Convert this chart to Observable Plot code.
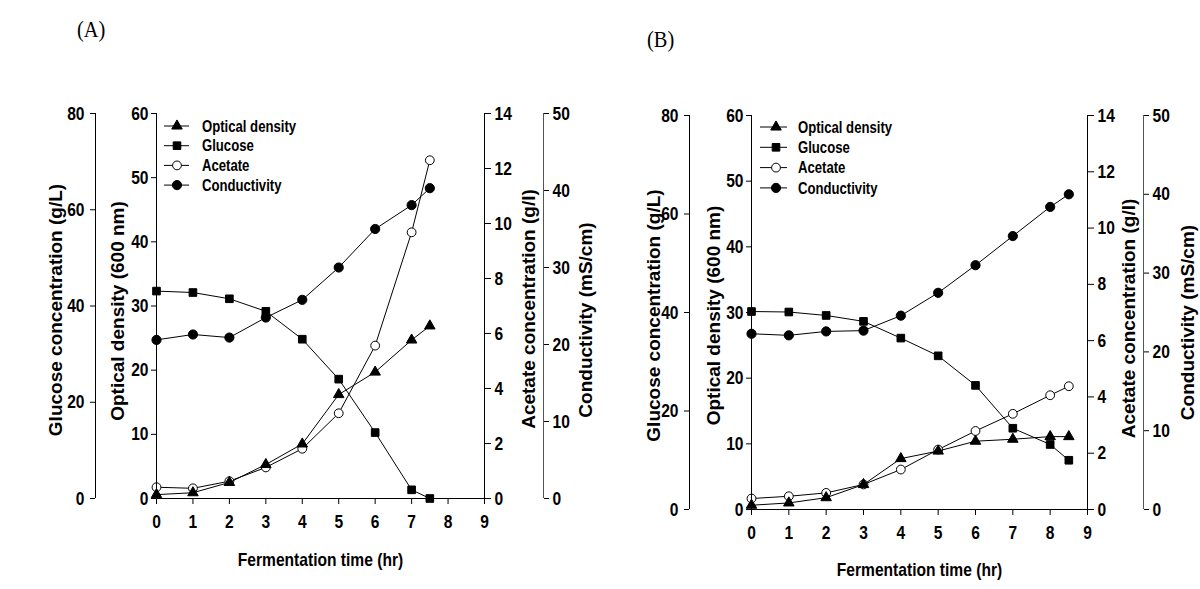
<!DOCTYPE html>
<html><head><meta charset="utf-8">
<script src="https://cdn.jsdelivr.net/npm/d3@7"></script>
<script src="https://cdn.jsdelivr.net/npm/@observablehq/plot@0.6"></script>
<style>
html,body{margin:0;padding:0;background:#fff;}
#root{position:relative;width:1200px;height:589px;overflow:hidden;background:#fff;}
.layer{position:absolute;top:0;}
.panel-label{position:absolute;font-family:"Liberation Serif","Times New Roman",serif;font-size:24px;color:#000;transform:scaleX(0.85);transform-origin:left top;}
</style></head><body>
<div id="root"></div>
<script>
// ---------- data ----------
const timeA = [0, 1, 2, 3, 4, 5, 6, 7, 7.5];
const odA = [0.6, 0.9, 2.5, 5.3, 8.5, 16.2, 19.7, 24.7, 26.9];
const glucoseA = [43.1, 42.8, 41.5, 38.9, 33.1, 24.8, 13.7, 1.8, 0];
const acetateA = [0.41, 0.37, 0.63, 1.13, 1.81, 3.10, 5.56, 9.68, 12.3];
const conductivityA = [20.6, 21.3, 20.9, 23.5, 25.8, 30.0, 35.0, 38.1, 40.3];

const timeB = [0, 1, 2, 3, 4, 5, 6, 7, 8, 8.5];
const odB = [0.65, 1.0, 1.8, 3.8, 7.75, 8.9, 10.4, 10.7, 11.1, 11.1];
const glucoseB = [40.2, 40.1, 39.4, 38.2, 34.8, 31.2, 25.2, 16.5, 13.2, 10.0];
const acetateB = [0.39, 0.47, 0.59, 0.89, 1.42, 2.13, 2.79, 3.40, 4.06, 4.38];
const conductivityB = [22.3, 22.1, 22.6, 22.7, 24.6, 27.5, 31.0, 34.7, 38.4, 40.0];

const xTicks = [0, 1, 2, 3, 4, 5, 6, 7, 8, 9];
const odTicks = [0, 10, 20, 30, 40, 50, 60];
const glucoseTicks = [0, 20, 40, 60, 80];
const acetateTicks = [0, 2, 4, 6, 8, 10, 12, 14];
const conductivityTicks = [0, 10, 20, 30, 40, 50];

const seriesNames = ["Optical density", "Glucose", "Acetate", "Conductivity"];
const panelLabels = ["(A)", "(B)"];
const xTitle = "Fermentation time (hr)";
const odTitle = "Optical density (600 nm)";
const glucoseTitle = "Glucose concentration (g/L)";
const acetateTitle = "Acetate concentration (g/l)";
const conductivityTitle = "Conductivity (mS/cm)";

// ---------- drawing ----------
const fontMain = '"Liberation Sans",Arial,sans-serif';
const squeeze = 0.82; // horizontal glyph compression seen in the reference
const root = document.getElementById("root");

const symbols = {
  "Optical density": {symbol: "triangle", fill: "#000", r: 3.9},
  "Glucose": {symbol: "square", fill: "#000", r: 4.3},
  "Acetate": {symbol: "circle", fill: "#fff", r: 4.4},
  "Conductivity": {symbol: "circle", fill: "#000", r: 4.6}
};

function table(t, v) { return t.map((x, i) => ({t: x, v: v[i]})); }

function seriesMarks(name, data) {
  const s = symbols[name];
  return [
    Plot.line(data, {x: "t", y: "v", stroke: "#000", strokeWidth: 1}),
    Plot.dot(data, {x: "t", y: "v", symbol: s.symbol, fill: s.fill, stroke: "#000", strokeWidth: 1, r: s.r})
  ];
}

function vtitle(text, anchor, dx, dy) {
  return Plot.text([text], {frameAnchor: anchor, dx, dy, rotate: -90, textAnchor: "middle",
    fontFamily: fontMain, fontSize: 19, fontWeight: "bold", fill: "#000"});
}

function addLayer(left, m, yDomain, marks, showX) {
  const svg = Plot.plot({
    width: 600, height: 589,
    marginTop: m.top, marginRight: m.right, marginBottom: m.bottom, marginLeft: m.left,
    x: showX ? {domain: [0, 9]} : {domain: [0, 9], axis: null},
    y: {domain: yDomain},
    style: {background: "transparent", fontFamily: fontMain, fontSize: "19px", fontWeight: "bold", color: "#000", overflow: "visible"},
    marks
  });
  const div = document.createElement("div");
  div.className = "layer";
  div.style.left = left + "px";
  div.appendChild(svg);
  root.appendChild(div);
}

function drawPanel(p) {
  const {left, m, t, od, glu, ace, con, g} = p;
  addLayer(left, m, [0, 80], [
    Plot.ruleX([0], {dx: g.gluDx, stroke: "#000"}),
    Plot.axisY({anchor: "left", dx: g.gluDx, ticks: glucoseTicks, tickSize: 5, tickPadding: 6, label: null}),
    vtitle(glucoseTitle, "left", g.gluTitle, g.gluTitleDy),
    ...seriesMarks("Glucose", table(t, glu))
  ], false);
  addLayer(left, m, [0, 14], [
    Plot.ruleX([9], {stroke: "#000"}),
    Plot.axisY({anchor: "right", ticks: acetateTicks, tickSize: 6, tickPadding: 4, label: null}),
    vtitle(acetateTitle, "right", g.aceTitle, g.aceTitleDy),
    ...seriesMarks("Acetate", table(t, ace))
  ], false);
  addLayer(left, m, [0, 50], [
    Plot.ruleX([9], {dx: g.conDx, stroke: "#555"}),
    Plot.axisY({anchor: "right", dx: g.conDx, ticks: conductivityTicks, tickSize: 5, tickPadding: 4, label: null}),
    vtitle(conductivityTitle, "right", g.conTitle, g.conTitleDy),
    ...seriesMarks("Conductivity", table(t, con))
  ], false);
  addLayer(left, m, [0, 60], [
    Plot.ruleX([0], {stroke: "#000"}),
    Plot.ruleY([0], {stroke: "#000"}),
    Plot.axisY({anchor: "left", ticks: odTicks, tickSize: 5, tickPadding: 3, label: null}),
    Plot.axisX({ticks: xTicks, tickSize: 6, tickPadding: 10, label: null}),
    vtitle(odTitle, "left", g.odTitle, g.odTitleDy),
    Plot.text([xTitle], {frameAnchor: "bottom", dy: g.xTitleDy, fontFamily: fontMain, fontSize: 19, fontWeight: "bold", fill: "#000"}),
    ...seriesMarks("Optical density", table(t, od))
  ], true);
  const L = p.legend;
  const svg = d3.select(root).append("svg")
    .attr("width", 200).attr("height", 100)
    .style("position", "absolute").style("left", L.x + "px").style("top", L.y + "px");
  seriesNames.forEach((name, i) => {
    const s = symbols[name];
    const y = 10 + i * L.step;
    svg.append("line").attr("x1", 0).attr("x2", L.lineW).attr("y1", y).attr("y2", y)
      .attr("stroke", "#000").attr("stroke-width", 1);
    const type = s.symbol === "triangle" ? d3.symbolTriangle : s.symbol === "square" ? d3.symbolSquare : d3.symbolCircle;
    svg.append("path").attr("d", d3.symbol(type, Math.PI * s.r * s.r)())
      .attr("transform", `translate(${L.markX},${y})`)
      .attr("fill", s.fill).attr("stroke", "#000").attr("stroke-width", 1);
    svg.append("text").attr("x", L.textX).attr("y", y).attr("dy", "0.35em")
      .attr("font-family", fontMain).attr("font-size", 16).attr("font-weight", "bold")
      .text(name);
  });
  const lab = document.createElement("div");
  lab.className = "panel-label";
  lab.style.left = p.label.x + "px";
  lab.style.top = p.label.y + "px";
  lab.textContent = p.label.text;
  root.appendChild(lab);
}

drawPanel({
  left: 0,
  m: {top: 113, right: 116, bottom: 91, left: 156},
  t: timeA, od: odA, glu: glucoseA, ace: acetateA, con: conductivityA,
  g: {gluDx: -61, gluTitle: -101, gluTitleDy: 4, odTitle: -39, odTitleDy: 5,
      aceTitle: 44, aceTitleDy: 3, conDx: 59, conTitle: 101, conTitleDy: 14, xTitleDy: 67},
  legend: {x: 164, y: 116, step: 19.7, lineW: 25, markX: 13, textX: 38},
  label: {x: 77, y: 16, text: panelLabels[0]}
});
drawPanel({
  left: 600,
  m: {top: 115, right: 113, bottom: 80, left: 151},
  t: timeB, od: odB, glu: glucoseB, ace: acetateB, con: conductivityB,
  g: {gluDx: -62, gluTitle: -98, gluTitleDy: 3, odTitle: -38, odTitleDy: 3,
      aceTitle: 41, aceTitleDy: 6, conDx: 56, conTitle: 100, conTitleDy: 10, xTitleDy: 66},
  legend: {x: 760, y: 117, step: 20.3, lineW: 27, markX: 16, textX: 38},
  label: {x: 647, y: 26, text: panelLabels[1]}
});

// compress horizontal text glyphs like the reference (not rotated titles)
root.querySelectorAll("text").forEach(el => {
  const tr = el.getAttribute("transform") || "";
  if (tr.includes("rotate")) return;
  const len = el.getComputedTextLength();
  if (len > 0) {
    el.setAttribute("textLength", (len * squeeze).toFixed(2));
    el.setAttribute("lengthAdjust", "spacingAndGlyphs");
  }
});
</script>
</body></html>
